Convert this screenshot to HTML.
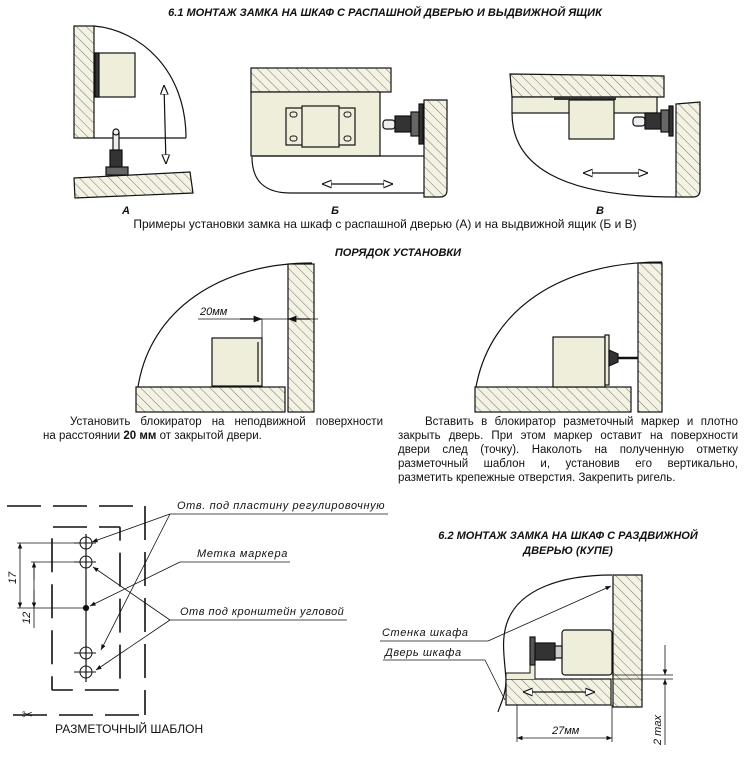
<!DOCTYPE html>
<html><head><meta charset="utf-8"><style>
html,body{margin:0;padding:0;background:#fff;}
svg{display:block;}
.t{font-family:"Liberation Sans",sans-serif;}
.h{font-family:"Liberation Sans",sans-serif;font-weight:bold;font-style:italic;font-size:11px;}
.c{font-family:"Liberation Sans",sans-serif;font-style:italic;font-size:11px;}
.p{position:absolute;font-family:"Liberation Sans",sans-serif;font-size:11.5px;line-height:14px;color:#111;}
.p div{text-align:justify;text-align-last:justify;white-space:nowrap;}
.p div.l{text-align-last:left;}
</style></head><body>
<div style="position:relative;width:747px;height:757px;overflow:hidden">
<svg width="747" height="757" viewBox="0 0 747 757" xmlns="http://www.w3.org/2000/svg">
<defs>
<pattern id="hp" patternUnits="userSpaceOnUse" width="7" height="7" patternTransform="rotate(-45)">
<rect width="7" height="7" fill="#f4f2e2"/><line x1="0" y1="0" x2="0" y2="7" stroke="#555" stroke-width="0.8"/>
</pattern>
<marker id="ar" viewBox="0 0 10 10" refX="10" refY="5" markerWidth="7" markerHeight="7" orient="auto-start-reverse"><path d="M0,1 L10,5 L0,9 z" fill="#111"/></marker>
<marker id="ao" viewBox="0 0 10 10" refX="10" refY="5" markerWidth="8" markerHeight="8" orient="auto-start-reverse"><path d="M0,1 L10,5 L0,9 z" fill="#fff" stroke="#111" stroke-width="1.2"/></marker>
</defs>
<g stroke="#111" stroke-width="1.2" fill="none">
<text class="h" x="385" y="16" text-anchor="middle" fill="#111" stroke="none">6.1 МОНТАЖ ЗАМКА НА ШКАФ С РАСПАШНОЙ ДВЕРЬЮ И ВЫДВИЖНОЙ ЯЩИК</text>

<!-- Fig A -->
<rect x="74" y="26" width="20" height="112" fill="url(#hp)"/>
<path d="M94,26 C140,30 186,70 186,138"/>
<line x1="94" y1="138" x2="186" y2="138"/>
<rect x="95" y="53" width="40" height="44" fill="#efeedb"/>
<rect x="95" y="53" width="4" height="44" fill="#333"/>
<line x1="164" y1="85" x2="166" y2="164" marker-start="url(#ao)" marker-end="url(#ao)"/>
<polygon points="74,178 190,172 193,193 75,198" fill="url(#hp)"/>
<rect x="113" y="133" width="6" height="20" fill="#eee"/>
<circle cx="116" cy="132" r="3" fill="#eee"/>
<rect x="110" y="150" width="12" height="18" fill="#333"/>
<rect x="106" y="167" width="22" height="8" fill="#666"/>
<text class="h" x="126" y="214" text-anchor="middle" fill="#111" stroke="none">А</text>

<!-- Fig B -->
<rect x="251" y="68" width="140" height="24" fill="url(#hp)"/>
<rect x="251" y="92" width="129" height="64" fill="#efeedb"/>
<line x1="251" y1="156" x2="424" y2="156"/>
<path d="M252,157 C252,180 264,193 290,193 L424,193"/>
<path d="M424,100 L447,100 L447,190 Q447,197 440,197 L424,197 Z" fill="url(#hp)"/>
<rect x="286" y="108" width="69" height="37" fill="#efeedb"/>
<rect x="302" y="106" width="37" height="41" fill="#efeedb"/>
<g stroke-width="1"><rect x="290" y="112" width="7" height="5" rx="2.5"/><rect x="290" y="136" width="7" height="5" rx="2.5"/><rect x="344" y="112" width="7" height="5" rx="2.5"/><rect x="344" y="136" width="7" height="5" rx="2.5"/></g>
<rect x="383" y="120" width="12" height="9" rx="3" fill="#eee"/>
<rect x="395" y="116" width="16" height="16" fill="#333"/>
<rect x="411" y="112" width="8" height="24" fill="#666"/>
<rect x="419" y="104" width="4" height="40" fill="#333"/>
<line x1="322" y1="184" x2="393" y2="184" marker-start="url(#ao)" marker-end="url(#ao)"/>
<text class="h" x="335" y="214" text-anchor="middle" fill="#111" stroke="none">Б</text>

<!-- Fig V -->
<polygon points="510,74 664,76 664,97 512,97" fill="url(#hp)"/>
<rect x="512" y="97" width="145" height="16" fill="#efeedb"/>
<rect x="554" y="97" width="62" height="3" fill="#333" stroke="none"/>
<rect x="569" y="100" width="45" height="39" fill="#efeedb"/>
<path d="M512,113 C512,165 560,197 676,197"/>
<path d="M676,104 L700,102 L700,190 Q700,197 693,197 L676,197 Z" fill="url(#hp)"/>
<rect x="633" y="117" width="12" height="9" rx="3" fill="#eee"/>
<rect x="645" y="113" width="16" height="16" fill="#333"/>
<rect x="661" y="110" width="8" height="22" fill="#666"/>
<rect x="669" y="106" width="4" height="30" fill="#333"/>
<line x1="583" y1="173" x2="648" y2="173" marker-start="url(#ao)" marker-end="url(#ao)"/>
<text class="h" x="600" y="214" text-anchor="middle" fill="#111" stroke="none">В</text>

<text class="t" x="385" y="228" text-anchor="middle" font-size="12" fill="#111" stroke="none">Примеры установки замка на шкаф с распашной дверью (А) и на выдвижной ящик (Б и В)</text>

<text class="h" x="398" y="256" text-anchor="middle" fill="#111" stroke="none">ПОРЯДОК УСТАНОВКИ</text>
<path d="M138,387 C150,310 220,263 312,263"/>
<rect x="136" y="387" width="149" height="25" fill="url(#hp)"/>
<rect x="288" y="264" width="26" height="148" fill="url(#hp)"/>
<rect x="212" y="338" width="50" height="48" fill="#efeedb"/>
<line x1="258" y1="342" x2="258" y2="382"/>
<line x1="262" y1="319" x2="262" y2="338" stroke-width="0.8"/>
<line x1="198" y1="319" x2="318" y2="319" stroke-width="0.8"/>
<line x1="240" y1="319" x2="262" y2="319" marker-end="url(#ar)"/>
<line x1="310" y1="319" x2="288" y2="319" marker-end="url(#ar)"/>
<text class="c" x="200" y="315" fill="#111" stroke="none">20мм</text>
<path d="M476,387 C490,310 560,262 662,262"/>
<rect x="475" y="387" width="156" height="25" fill="url(#hp)"/>
<rect x="638" y="263" width="24" height="149" fill="url(#hp)"/>
<rect x="553" y="337" width="52" height="50" fill="#efeedb"/>
<rect x="605" y="335" width="4" height="50" fill="#efeedb"/>
<path d="M609,350 L618,354 L618,362 L609,366 Z" fill="#333"/>
<line x1="618" y1="358" x2="638" y2="358" stroke-width="2.5"/>

<!-- Template -->
<g stroke-width="1.6" stroke-dasharray="34,12">
<line x1="7" y1="506" x2="145" y2="506"/>
<line x1="145" y1="506" x2="145" y2="715"/>
<line x1="13" y1="715" x2="145" y2="715"/>
<rect x="52" y="527" width="68" height="163" rx="1"/>
</g>
<line x1="86" y1="534" x2="86" y2="682"/>
<g stroke-width="1"><circle cx="86" cy="543" r="6"/><line x1="74" y1="543" x2="96" y2="543"/>
<circle cx="86" cy="562" r="6"/><line x1="74" y1="562" x2="96" y2="562"/>
<circle cx="86" cy="653" r="6"/><line x1="74" y1="653" x2="96" y2="653"/>
<circle cx="86" cy="672" r="6"/><line x1="74" y1="672" x2="96" y2="672"/></g>
<circle cx="86" cy="608" r="2.5" fill="#111"/>
<g stroke-width="0.8">
<line x1="17" y1="543" x2="86" y2="543"/><line x1="17" y1="608" x2="86" y2="608"/><line x1="31" y1="562" x2="86" y2="562"/>
<line x1="20" y1="543" x2="20" y2="608" marker-start="url(#ar)" marker-end="url(#ar)"/>
<line x1="34" y1="562" x2="34" y2="628"/>
<line x1="34" y1="580" x2="34" y2="562" marker-end="url(#ar)"/>
<line x1="34" y1="590" x2="34" y2="608" marker-end="url(#ar)"/>
<line x1="170" y1="514" x2="388" y2="514"/>
<line x1="170" y1="514" x2="92" y2="542" marker-end="url(#ar)"/>
<line x1="170" y1="514" x2="101" y2="650" marker-end="url(#ar)"/>
<line x1="180" y1="562" x2="290" y2="562"/>
<line x1="180" y1="562" x2="90" y2="606" marker-end="url(#ar)"/>
<line x1="170" y1="620" x2="347" y2="620"/>
<line x1="170" y1="620" x2="93" y2="567" marker-end="url(#ar)"/>
<line x1="170" y1="620" x2="96" y2="670" marker-end="url(#ar)"/>
</g>
<text class="c" x="177" y="509" fill="#111" stroke="none" font-size="10.5" letter-spacing="0.6">Отв. под пластину регулировочную</text>
<text class="c" x="197" y="557" fill="#111" stroke="none" font-size="10.5" letter-spacing="0.7">Метка маркера</text>
<text class="c" x="180" y="615" fill="#111" stroke="none" font-size="10.5" letter-spacing="0.5">Отв под кронштейн угловой</text>
<text class="c" x="0" y="0" fill="#111" stroke="none" transform="translate(16,584) rotate(-90)">17</text>
<text class="c" x="0" y="0" fill="#111" stroke="none" transform="translate(30,624) rotate(-90)">12</text>
<text class="t" x="22" y="719" font-size="13" fill="#111" stroke="none">✂</text>
<text class="t" x="55" y="733" font-size="12" fill="#111" stroke="none">РАЗМЕТОЧНЫЙ ШАБЛОН</text>

<!-- 6.2 -->
<text class="h" x="568" y="539" text-anchor="middle" fill="#111" stroke="none">6.2 МОНТАЖ ЗАМКА НА ШКАФ С РАЗДВИЖНОЙ</text>
<text class="h" x="568" y="554" text-anchor="middle" fill="#111" stroke="none">ДВЕРЬЮ (КУПЕ)</text>
<path d="M612,575 C560,575 520,590 508,620 C500,640 505,660 506,680 C506,695 500,705 498,712"/>
<rect x="613" y="575" width="29" height="132" fill="url(#hp)"/>
<rect x="506" y="679" width="105" height="26" fill="url(#hp)"/>
<line x1="523" y1="692" x2="595" y2="692" marker-start="url(#ao)" marker-end="url(#ao)"/>
<path d="M506,679 L506,673 L530,673 L530,660 L535,660 L535,679" fill="#efeedb" stroke-width="1"/>
<rect x="562" y="630" width="50" height="45" rx="3" fill="#efeedb"/>
<rect x="535" y="643" width="20" height="17" fill="#333"/>
<rect x="555" y="646" width="7" height="12" fill="#ccc"/>
<rect x="530" y="637" width="5" height="28" fill="#555"/>
<g stroke-width="0.8">
<line x1="380" y1="641" x2="488" y2="641"/>
<line x1="488" y1="641" x2="611" y2="586" marker-end="url(#ar)"/>
<line x1="383" y1="660" x2="485" y2="660"/>
<line x1="485" y1="660" x2="505" y2="700"/>
<line x1="517" y1="705" x2="517" y2="742"/><line x1="612" y1="705" x2="612" y2="742"/>
<line x1="517" y1="738" x2="612" y2="738" marker-start="url(#ar)" marker-end="url(#ar)"/>
<line x1="612" y1="675" x2="673" y2="675"/><line x1="612" y1="679" x2="673" y2="679"/>
<line x1="665" y1="645" x2="665" y2="675" marker-end="url(#ar)"/>
<line x1="665" y1="745" x2="665" y2="679" marker-end="url(#ar)"/>
</g>
<text class="c" x="382" y="636" fill="#111" stroke="none" font-size="11" letter-spacing="0.6">Стенка шкафа</text>
<text class="c" x="385" y="656" fill="#111" stroke="none" font-size="11" letter-spacing="0.6">Дверь шкафа</text>
<text class="c" x="552" y="734" fill="#111" stroke="none">27мм</text>
<text class="c" x="0" y="0" fill="#111" stroke="none" transform="translate(661,745) rotate(-90)">2 max</text>
</g>
</svg>
<div class="p" style="left:43px;top:415px;width:340px">
<div style="padding-left:27px">Установить блокиратор на неподвижной поверхности</div>
<div class="l">на расстоянии <b>20 мм</b> от закрытой двери.</div>
</div>
<div class="p" style="left:398px;top:415px;width:340px">
<div style="padding-left:27px">Вставить в блокиратор разметочный маркер и плотно</div>
<div>закрыть дверь. При этом маркер оставит на поверхности</div>
<div>двери след (точку). Наколоть на полученную отметку</div>
<div>разметочный шаблон и, установив его вертикально,</div>
<div class="l">разметить крепежные отверстия. Закрепить ригель.</div>
</div>
</div>
</body></html>
